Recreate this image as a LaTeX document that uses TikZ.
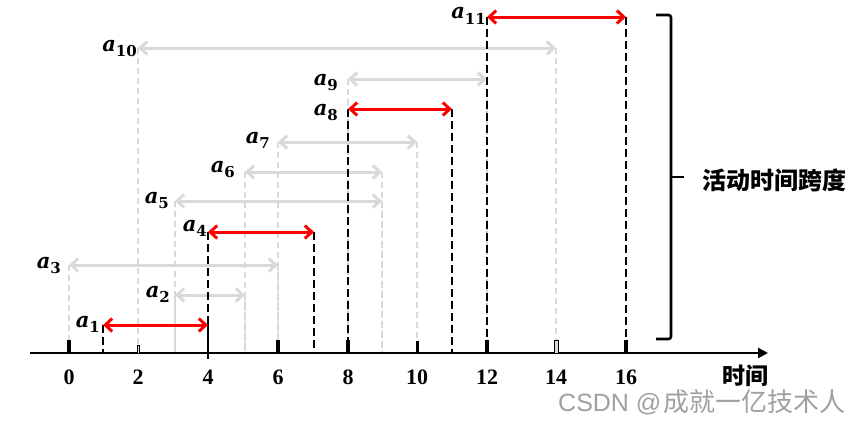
\documentclass[tikz,border=0pt]{standalone}
\usepackage{fontspec}
\usetikzlibrary{arrows.meta}
\newfontfamily\cjk{Noto Sans CJK SC}
\newfontfamily\numfont{Liberation Serif}
\newfontfamily\labfont{DejaVu Serif}
\newfontfamily\wmfont{Liberation Sans}
\definecolor{lg}{RGB}{217,217,217}
\definecolor{rd}{RGB}{255,0,0}
\definecolor{wm}{RGB}{160,160,160}
\newcommand\lab[1]{{\labfont\bfseries\itshape a}\raisebox{-0.28em}{\fontsize{15}{17}\selectfont\labfont\bfseries #1}}
\begin{document}
\begin{tikzpicture}[x=1pt,y=-1pt,
  greydash/.style={draw=lg, line width=2.4pt, dash pattern=on 6pt off 4pt},
  blackdash/.style={draw=black, line width=2.8pt, dash pattern=on 8pt off 4pt},
  greyarrow/.style={draw=lg, line width=3pt, {Straight Barb[length=7pt,width=13pt]}-{Straight Barb[length=7pt,width=13pt]}},
  redarrow/.style={draw=rd, line width=3pt, {Straight Barb[length=7pt,width=13pt]}-{Straight Barb[length=7pt,width=13pt]}},
  actlabel/.style={anchor=base east, inner sep=0pt, font=\fontsize{21}{24}\selectfont},
  ticknum/.style={font=\fontsize{22}{24}\selectfont\numfont\bfseries, inner sep=0pt},
  tickmark/.style={fill=black, draw=none},
]
\useasboundingbox (0,0) rectangle (857,423);

% axis ends
\coordinate (ax0) at (30,353);
\coordinate (ax1) at (768,353);

% activity end points
\coordinate (s1) at (103,325);  \coordinate (e1) at (208,325);
\coordinate (s2) at (175,295);  \coordinate (e2) at (245,295);
\coordinate (s3) at (69,265);   \coordinate (e3) at (278,265);
\coordinate (s4) at (208,232);  \coordinate (e4) at (314,232);
\coordinate (s5) at (175,201);  \coordinate (e5) at (382,201);
\coordinate (s6) at (245,172);  \coordinate (e6) at (382,172);
\coordinate (s7) at (278,142);  \coordinate (e7) at (417,142);
\coordinate (s8) at (348,109);  \coordinate (e8) at (452,109);
\coordinate (s9) at (348,79);   \coordinate (e9) at (487,79);
\coordinate (s10) at (138,48);  \coordinate (e10) at (556,48);
\coordinate (s11) at (487,17);  \coordinate (e11) at (626,17);

% grey dashed drop lines
\foreach \p in {s2,e2,s3,e3,s5,e5,s6,e6,s7,e7,s9,e9,s10,e10}
  \draw[greydash] (\p) -- (\p |- ax0);

% grey arrows
\foreach \i in {2,3,5,6,7,9,10}
  \draw[greyarrow] (s\i) -- (e\i);

% black dashed drop lines
\coordinate (k4) at (208,322);
\draw[blackdash] (s1) -- (s1 |- ax0);
\draw[blackdash] (s4) -- (k4);
\foreach \p in {e4,s8,e8,s11,e11}
  \draw[blackdash] (\p) -- (\p |- ax0);
\coordinate (k4b) at (208,359);
\draw[black, line width=2.8pt] (k4) -- (k4b);

% red arrows
\foreach \i in {1,4,8,11}
  \draw[redarrow] (s\i) -- (e\i);

% labels
\node[actlabel] (l1) at (100,327) {\lab{1}};
\node[actlabel] (l2) at (170,297) {\lab{2}};
\node[actlabel] (l3) at (61,268) {\lab{3}};
\node[actlabel] (l4) at (207,231) {\lab{4}};
\node[actlabel] (l5) at (169,203) {\lab{5}};
\node[actlabel] (l6) at (235,172) {\lab{6}};
\node[actlabel] (l7) at (270,143) {\lab{7}};
\node[actlabel] (l8) at (338,115) {\lab{8}};
\node[actlabel] (l9) at (338,85) {\lab{9}};
\node[actlabel] (l10) at (137,51) {\lab{10}};
\node[actlabel] (l11) at (486,19) {\lab{11}};

% axis
\draw[line width=2.5pt, -{Triangle[length=10pt,width=10pt]}] (ax0) -- (ax1);

% tick marks
\foreach \x in {69,278,348,487,626}
  \fill[tickmark] (\x-2,340) rectangle (\x+2,353);
\fill[tickmark] (416,341) rectangle (418.5,353);
\draw[black, line width=0.8pt, fill=lg] (137,345) rectangle (139.5,353);
\draw[black, line width=0.9pt, fill=lg] (554.5,340) rectangle (558,353);

% tick numbers
\foreach \x/\t in {69/0,138/2,208/4,278/6,348/8,417/10,487/12,556/14,626/16}
  \node[ticknum] (n\t) at (\x,377) {\t};

% axis title
\node[font=\fontsize{23}{26}\selectfont\cjk\bfseries, inner sep=0pt] (tl) at (745,376) {时间};

% brace
\draw[line width=2.6pt, rounded corners=2.5pt] (656,15) -- (671,15) -- (671,339) -- (656,339);
\coordinate (bm) at (671,177);
\coordinate (bt) at (684,177);
\draw[line width=2.6pt] (bm) -- (bt);
\node[anchor=west, inner sep=0pt, font=\fontsize{24}{28}\selectfont\cjk\bfseries] (span) at (702,180) {活动时间跨度};

% watermark
\node[anchor=west, inner sep=0pt, text=wm, font=\fontsize{25}{28}\selectfont] (wmk) at (558,402) {\wmfont CSDN @\hspace{2pt}\fontsize{26}{28}\selectfont\cjk 成就一亿技术人};
\end{tikzpicture}
\end{document}
